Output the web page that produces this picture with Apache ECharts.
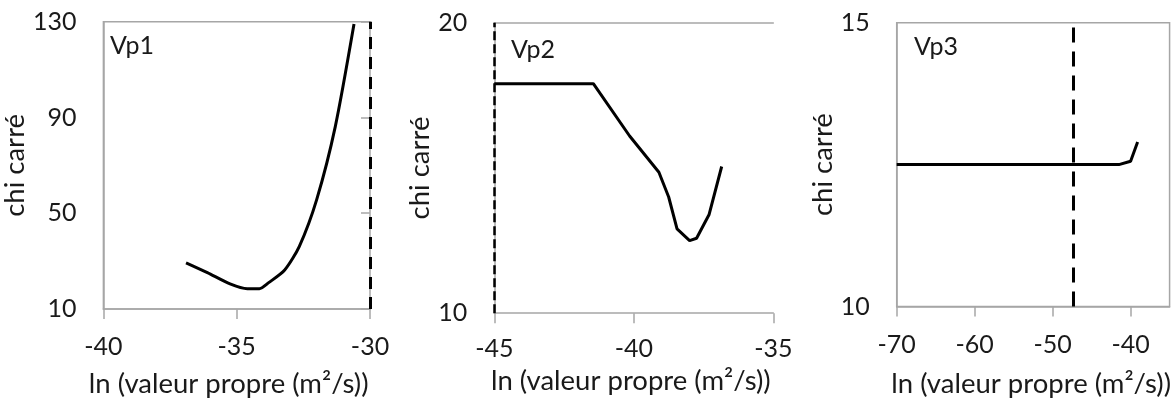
<!DOCTYPE html>
<html>
<head>
<meta charset="utf-8">
<script src="https://cdn.jsdelivr.net/npm/echarts@6/dist/echarts.min.js"></script>
<style>
html,body{margin:0;padding:0;background:#fff;}
#chart{width:1174px;height:403px;}
</style>
</head>
<body>
<div id="chart"></div>
<script>
// ---- data ----
const vp1X = [-36.9, -36.1, -35.25, -34.6, -34.15, -33.8, -33.2, -32.65, -32.0, -31.3, -30.6];
const vp1Y = [29.3, 25.2, 20.5, 18.5, 18.5, 21.0, 26.3, 36.2, 55.7, 86.3, 129];
const vp2X = [-45, -41.45, -40.15, -39.1, -38.75, -38.45, -38.0, -37.75, -37.3, -36.85];
const vp2Y = [17.9, 17.9, 16.1, 14.85, 14.0, 12.9, 12.5, 12.58, 13.4, 15.05];
const vp3X = [-70, -41.5, -40, -39.1];
const vp3Y = [12.5, 12.5, 12.56, 12.9];
const vlineX = [-30, -45, -47.3];
const panelNames = ['Vp1', 'Vp2', 'Vp3'];
const xTitle = 'ln (valeur propre (m²/s))';
const yTitle = 'chi carré';
const x1Ticks = [-40, -35, -30];
const x2Ticks = [-45, -40, -35];
const x3Ticks = [-70, -60, -50, -40];
const y1Ticks = [10, 50, 90, 130];
const y2Ticks = [10, 20];
const y3Ticks = [10, 15];

// ---- styling ----
const FONT = 'Lato';
const FS = 25;
const FSN = 27.5;
const TXT = '#1a1a1a';
const AX = '#a6a6a6';

function pairs(xs, ys) { return xs.map((v, i) => [v, ys[i]]); }

function xAxisCfg(gi, ticks, margin, gap, shift) {
  return {
    type: 'value', gridIndex: gi, position: 'bottom',
    min: ticks[0], max: (gi === 2 ? -35 : ticks[ticks.length - 1]),
    interval: ticks[1] - ticks[0],
    splitLine: { show: false },
    axisLine: { show: true, onZero: false, lineStyle: { color: AX, width: 1.5 } },
    axisTick: { show: true, length: 10, lineStyle: { color: AX, width: 1.5 }, customValues: ticks },
    axisLabel: { color: TXT, fontFamily: FONT, fontSize: FS, margin: margin, customValues: ticks },
    name: xTitle, nameLocation: 'middle', nameGap: gap,
    nameTextStyle: { color: TXT, fontFamily: FONT, fontSize: FSN, padding: [0, shift * 2, 0, 0] }
  };
}
function yAxisCfg(gi, ticks, gap) {
  return {
    type: 'value', gridIndex: gi, position: 'left',
    min: ticks[0], max: ticks[ticks.length - 1], interval: ticks[1] - ticks[0],
    splitLine: { show: false },
    axisLine: { show: true, onZero: false, lineStyle: { color: AX, width: 1.5 } },
    axisTick: { show: false },
    axisLabel: { color: TXT, fontFamily: FONT, fontSize: FS, margin: 27 },
    name: yTitle, nameLocation: 'middle', nameGap: gap,
    nameTextStyle: { color: TXT, fontFamily: FONT, fontSize: FSN }
  };
}

const option = {
  animation: false,
  backgroundColor: '#fff',
  grid: [
    { left: 96.7, top: 21.7, width: 273.3, height: 287.5, show: true, borderColor: AX, borderWidth: 1.5 },
    { left: 494.3, top: 22.7, width: 279, height: 290.5, show: false },
    { left: 896.7, top: 22.7, width: 275, height: 285.6, show: true, borderColor: AX, borderWidth: 1.5 }
  ],
  title: [
    { text: panelNames[0], left: 110, top: 33, textStyle: { color: TXT, fontFamily: FONT, fontSize: FS, fontWeight: 'normal' }, padding: 0 },
    { text: panelNames[1], left: 511, top: 37, textStyle: { color: TXT, fontFamily: FONT, fontSize: FS, fontWeight: 'normal' }, padding: 0 },
    { text: panelNames[2], left: 914, top: 34, textStyle: { color: TXT, fontFamily: FONT, fontSize: FS, fontWeight: 'normal' }, padding: 0 }
  ],
  xAxis: [
    xAxisCfg(0, x1Ticks, 25.5, 61, 8),
    xAxisCfg(1, x2Ticks, 23, 54, 3),
    xAxisCfg(2, x3Ticks, 26, 63.5, 2),
    { type: 'value', gridIndex: 1, position: 'top', min: x2Ticks[0], max: x2Ticks[x2Ticks.length - 1],
      axisLine: { show: true, onZero: false, lineStyle: { color: AX, width: 1.5 } },
      axisTick: { show: false }, axisLabel: { show: false }, splitLine: { show: false } }
  ],
  yAxis: [
    yAxisCfg(0, y1Ticks, 63),
    yAxisCfg(1, y2Ticks, 58.5),
    yAxisCfg(2, y3Ticks, 52.5),
    { type: 'value', gridIndex: 0, position: 'right', min: y1Ticks[0], max: y1Ticks[y1Ticks.length - 1],
      interval: y1Ticks[1] - y1Ticks[0],
      axisLine: { show: false }, axisTick: { show: true, inside: true, length: 9, lineStyle: { color: AX, width: 1.5 } },
      axisLabel: { show: false }, splitLine: { show: false } }
  ],
  series: [
    { type: 'line', xAxisIndex: 0, yAxisIndex: 0, data: pairs(vp1X, vp1Y), symbol: 'none', smooth: 0.25, clip: false,
      lineStyle: { color: '#000', width: 3 },
      markLine: { silent: true, symbol: 'none', label: { show: false },
        lineStyle: { color: '#000', width: 3, type: [12, 8] }, data: [{ xAxis: vlineX[0] }] } },
    { type: 'line', xAxisIndex: 1, yAxisIndex: 1, data: pairs(vp2X, vp2Y), symbol: 'none', clip: false,
      lineStyle: { color: '#000', width: 3 },
      markLine: { silent: true, symbol: 'none', label: { show: false },
        lineStyle: { color: '#000', width: 2.5, type: [9, 4] }, data: [{ xAxis: vlineX[1] }] } },
    { type: 'line', xAxisIndex: 2, yAxisIndex: 2, data: pairs(vp3X, vp3Y), symbol: 'none', clip: false,
      lineStyle: { color: '#000', width: 3 },
      markLine: { silent: true, symbol: 'none', label: { show: false },
        lineStyle: { color: '#000', width: 3, type: [15, 9] }, data: [{ xAxis: vlineX[2] }] } }
  ]
};

const chart = echarts.init(document.getElementById('chart'), null, { renderer: 'canvas' });
chart.setOption(option);
</script>
</body>
</html>
